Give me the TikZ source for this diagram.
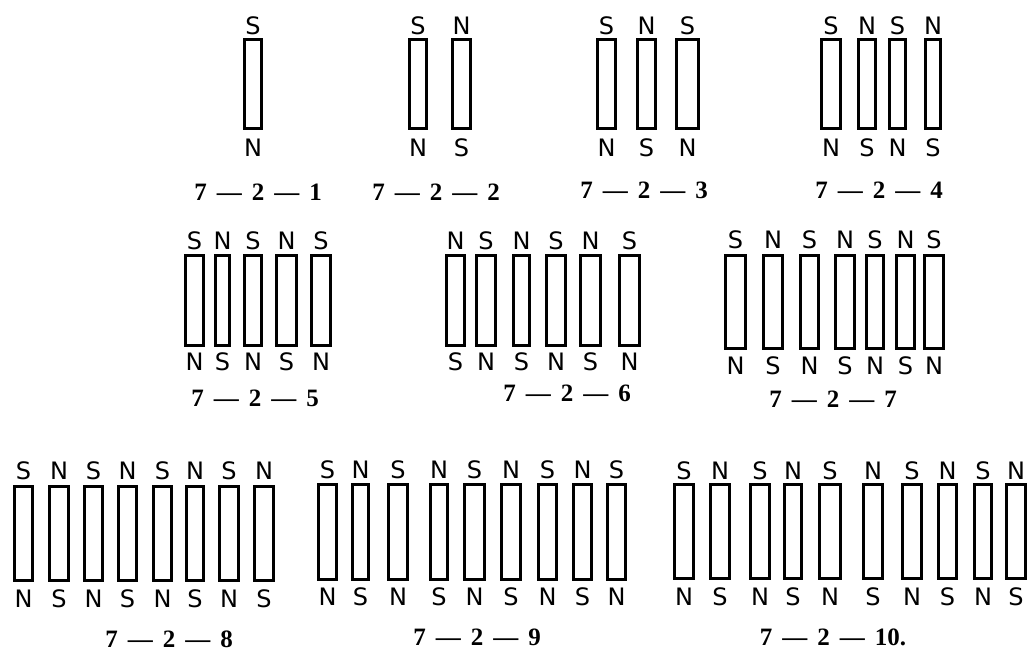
\documentclass[tikz,border=0pt]{standalone}
\usepackage{fontspec}
\setmainfont{Liberation Serif}
\newfontfamily\polefam{DejaVu Sans}
\newcommand\polefont{\polefam\fontsize{24}{24}\selectfont}
\newcommand\capfont{\rmfamily\bfseries\fontsize{25}{25}\selectfont}
\newcommand\dsh{\hspace{10pt}—\hspace{10pt}}
\tikzset{
  magnet/.style={draw=black, line width=3pt, inner sep=0pt, outer sep=0pt},
  pole/.style={font=\polefont, inner sep=0pt},
  figcap/.style={font=\capfont, inner sep=0pt}
}
% #1 id, #2 rect top, #3 rect bottom, #4 top label y, #5 bottom label y, #6 list xl/xr/top/bottom
\newcommand\magrow[6]{%
  \foreach \xl/\xr/\tl/\bl [count=\i] in {#6} {
    \pgfmathsetmacro\mw{\xr-\xl-3}
    \pgfmathsetmacro\mh{#3-#2-3}
    \pgfmathsetmacro\mx{(\xl+\xr)/2}
    \node[magnet, minimum width=\mw pt, minimum height=\mh pt] (#1m\i) at (\mx,{(#2+#3)/2}) {};
    \node[pole] (#1t\i) at (\mx,#4) {\tl};
    \node[pole] (#1b\i) at (\mx,#5) {\bl};
  }
}
\begin{document}
\begin{tikzpicture}[x=1pt,y=-1pt]
\useasboundingbox[fill=white] (0,0) rectangle (1029,652);
% Row 1
\magrow{a}{38}{130}{26}{148}{243/263/S/N}
\magrow{b}{38}{130}{26}{148}{408/428/S/N, 451/472/N/S}
\magrow{c}{38}{130}{26}{148}{596/617/S/N, 636/657/N/S, 675/700/S/N}
\magrow{d}{38}{130}{26}{148}{820/842/S/N, 857/877/N/S, 888/907/S/N, 924/942/N/S}
\node[figcap] (ca) at (258,192) {7\dsh 2\dsh 1};
\node[figcap] (cb) at (436,192) {7\dsh 2\dsh 2};
\node[figcap] (cc) at (644,190) {7\dsh 2\dsh 3};
\node[figcap] (cd) at (879,190) {7\dsh 2\dsh 4};
% Row 2
\magrow{e}{254}{347}{241}{362}{184/205/S/N, 214/231/N/S, 243/263/S/N, 275/298/N/S, 310/332/S/N}
\magrow{f}{254}{347}{241}{362}{445/466/N/S, 475/497/S/N, 512/531/N/S, 545/567/S/N, 579/602/N/S, 618/641/S/N}
\magrow{g}{254}{350}{240}{366}{724/747/S/N, 762/784/N/S, 799/820/S/N, 834/856/N/S, 865/885/S/N, 895/916/N/S, 923/945/S/N}
\node[figcap] (ce) at (255,398) {7\dsh 2\dsh 5};
\node[figcap] (cf) at (567,393) {7\dsh 2\dsh 6};
\node[figcap] (cg) at (833,399) {7\dsh 2\dsh 7};
% Row 3
\magrow{h}{485}{582}{471}{599}{13/34/S/N, 48/70/N/S, 83/104/S/N, 117/138/N/S, 152/173/S/N, 185/205/N/S, 218/240/S/N, 253/275/N/S}
\magrow{i}{483}{581}{470}{597}{317/338/S/N, 351/370/N/S, 387/409/S/N, 429/449/N/S, 463/486/S/N, 500/522/N/S, 537/558/S/N, 572/593/N/S, 606/627/S/N}
\magrow{j}{483}{580}{471}{597}{673/695/S/N, 709/731/N/S, 749/771/S/N, 783/803/N/S, 818/842/S/N, 862/884/N/S, 901/923/S/N, 937/958/N/S, 973/993/S/N, 1005/1027/N/S}
\node[figcap] (ch) at (169,639) {7\dsh 2\dsh 8};
\node[figcap] (ci) at (477,637) {7\dsh 2\dsh 9};
\node[figcap] (cj) at (833,637) {7\dsh 2\dsh 10.};
\end{tikzpicture}
\end{document}
